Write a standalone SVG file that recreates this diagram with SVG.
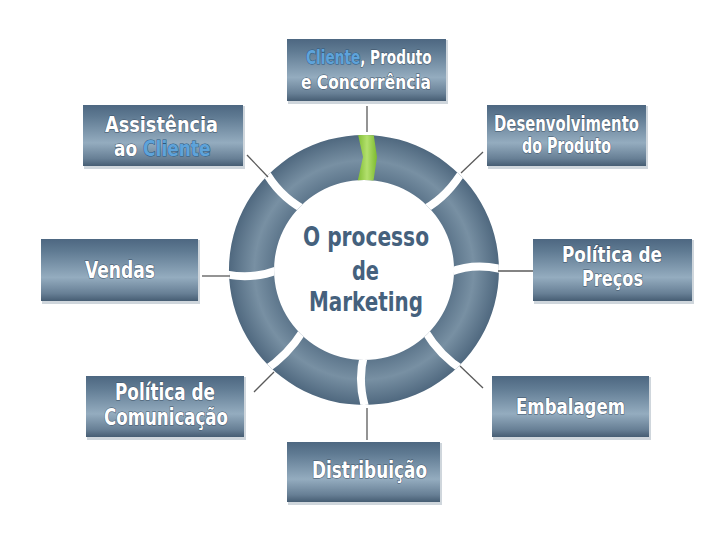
<svg xmlns="http://www.w3.org/2000/svg" width="720" height="540" viewBox="0 0 720 540">
<defs>
<linearGradient id="boxg" x1="0" y1="0" x2="0" y2="1">
<stop offset="0" stop-color="#4d6781"/>
<stop offset="0.2" stop-color="#607b93"/>
<stop offset="0.62" stop-color="#94acbf"/>
<stop offset="0.88" stop-color="#677f95"/>
<stop offset="1" stop-color="#465d73"/>
</linearGradient>
<radialGradient id="ringg" gradientUnits="userSpaceOnUse" cx="364" cy="270" r="137">
<stop offset="0.64" stop-color="#5a7389"/>
<stop offset="0.8" stop-color="#7890a3"/>
<stop offset="1" stop-color="#4c657c"/>
</radialGradient>
<linearGradient id="greeng" x1="0" y1="0" x2="1" y2="0">
<stop offset="0" stop-color="#7dbb2f"/>
<stop offset="0.5" stop-color="#b3e06e"/>
<stop offset="1" stop-color="#7dbb2f"/>
</linearGradient>
<clipPath id="ringclip">
<path d="M364,135 A135,135 0 1,1 363.9,135 Z M364,180 A90,90 0 1,0 364.1,180 Z" clip-rule="evenodd"/>
</clipPath>
</defs>
<style>
.box{fill:url(#boxg);}
.shadow{fill:#cfd6dc;}
.lbl{font-family:"DejaVu Sans Condensed","DejaVu Sans",sans-serif;font-weight:bold;fill:#ffffff;stroke:#3e5266;stroke-width:1;paint-order:stroke;}
.blue{fill:#5ea3da;stroke:#2d5a82;}
.ctr{font-family:"DejaVu Sans Condensed","DejaVu Sans",sans-serif;font-weight:bold;font-size:27px;fill:#45617d;stroke:#ffffff;stroke-width:2.5;paint-order:stroke;}
.conn{stroke:#5a5a5a;stroke-width:1.3;fill:none;}
.gap{stroke:#ffffff;stroke-width:8;fill:none;stroke-linecap:butt;}
</style>
<rect width="720" height="540" fill="#ffffff"/>

<g id="ring">
<path d="M364,135 A135,135 0 1,1 363.9,135 Z M364,180 A90,90 0 1,0 364.1,180 Z" fill="url(#ringg)" fill-rule="evenodd"/>
<g clip-path="url(#ringclip)">
<path class="gap" d="M450,272 Q476,262 504,270"/>
<path class="gap" d="M278,270 Q252,280 224,274"/>
<path class="gap" d="M425,209 Q448,196 464,169"/>
<path class="gap" d="M303,209 Q278,195 264,169"/>
<path class="gap" d="M303,331 Q288,355 264,371"/>
<path class="gap" d="M425,331 Q440,356 464,371"/>
<path class="gap" d="M364,355 Q357,382 366,410"/>
<polygon points="357,130 363,157 357,184 373,184 377,157 373,130" fill="url(#greeng)"/>
</g>
</g>

<g id="connectors">
<line class="conn" x1="367" y1="106" x2="367" y2="132"/>
<line class="conn" x1="247" y1="155" x2="268" y2="177"/>
<line class="conn" x1="483" y1="152" x2="461" y2="173"/>
<line class="conn" x1="202" y1="276" x2="230" y2="276"/>
<line class="conn" x1="498" y1="271" x2="533" y2="271"/>
<line class="conn" x1="254" y1="392" x2="274" y2="372"/>
<line class="conn" x1="460" y1="366" x2="483" y2="388"/>
<line class="conn" x1="367" y1="408" x2="367" y2="440"/>
</g>

<g id="center-label">
<text class="ctr" x="303" y="246" textLength="126" lengthAdjust="spacingAndGlyphs">O processo</text>
<text class="ctr" x="352" y="280" textLength="27" lengthAdjust="spacingAndGlyphs">de</text>
<text class="ctr" x="309" y="311" textLength="114" lengthAdjust="spacingAndGlyphs">Marketing</text>
</g>

<g id="node-cliente">
<rect class="shadow" x="288" y="40" width="160" height="64"/>
<rect class="box" x="287" y="39" width="159" height="62"/>
<text class="lbl" transform="translate(306,64) scale(0.8,1)" x="0" y="0" font-size="19"><tspan class="blue">Cliente</tspan>, Produto</text>
<text class="lbl" x="301" y="89" font-size="19" textLength="130" lengthAdjust="spacingAndGlyphs">e Concorrência</text>
</g>

<g id="node-assistencia">
<rect class="shadow" x="84" y="106" width="161" height="63"/>
<rect class="box" x="83" y="105" width="160" height="61"/>
<text class="lbl" x="105" y="132" font-size="22" textLength="113" lengthAdjust="spacingAndGlyphs">Assistência</text>
<text class="lbl" transform="translate(114,156) scale(0.86,1)" x="0" y="0" font-size="22">ao <tspan class="blue">Cliente</tspan></text>
</g>

<g id="node-desenvolvimento">
<rect class="shadow" x="488" y="106" width="160" height="63"/>
<rect class="box" x="487" y="105" width="159" height="61"/>
<text class="lbl" x="494" y="131" font-size="21" textLength="145" lengthAdjust="spacingAndGlyphs">Desenvolvimento</text>
<text class="lbl" x="522" y="153" font-size="21" textLength="89" lengthAdjust="spacingAndGlyphs">do Produto</text>
</g>

<g id="node-vendas">
<rect class="shadow" x="42" y="240" width="158" height="64"/>
<rect class="box" x="41" y="239" width="157" height="62"/>
<text class="lbl" x="85" y="278" font-size="23" textLength="70" lengthAdjust="spacingAndGlyphs">Vendas</text>
</g>

<g id="node-precos">
<rect class="shadow" x="534" y="240" width="160" height="64"/>
<rect class="box" x="533" y="239" width="159" height="62"/>
<text class="lbl" x="562" y="262" font-size="22" textLength="100" lengthAdjust="spacingAndGlyphs">Política de</text>
<text class="lbl" x="582" y="286" font-size="22" textLength="61" lengthAdjust="spacingAndGlyphs">Preços</text>
</g>

<g id="node-comunicacao">
<rect class="shadow" x="87" y="377" width="159" height="63"/>
<rect class="box" x="86" y="376" width="158" height="61"/>
<text class="lbl" x="115" y="400" font-size="23" textLength="100" lengthAdjust="spacingAndGlyphs">Política de</text>
<text class="lbl" x="104" y="425" font-size="23" textLength="124" lengthAdjust="spacingAndGlyphs">Comunicação</text>
</g>

<g id="node-embalagem">
<rect class="shadow" x="493" y="377" width="158" height="63"/>
<rect class="box" x="492" y="376" width="157" height="61"/>
<text class="lbl" x="516" y="414" font-size="22" textLength="109" lengthAdjust="spacingAndGlyphs">Embalagem</text>
</g>

<g id="node-distribuicao">
<rect class="shadow" x="288" y="443" width="154" height="62"/>
<rect class="box" x="287" y="442" width="153" height="60"/>
<text class="lbl" x="312" y="478" font-size="23" textLength="115" lengthAdjust="spacingAndGlyphs">Distribuição</text>
</g>
</svg>
